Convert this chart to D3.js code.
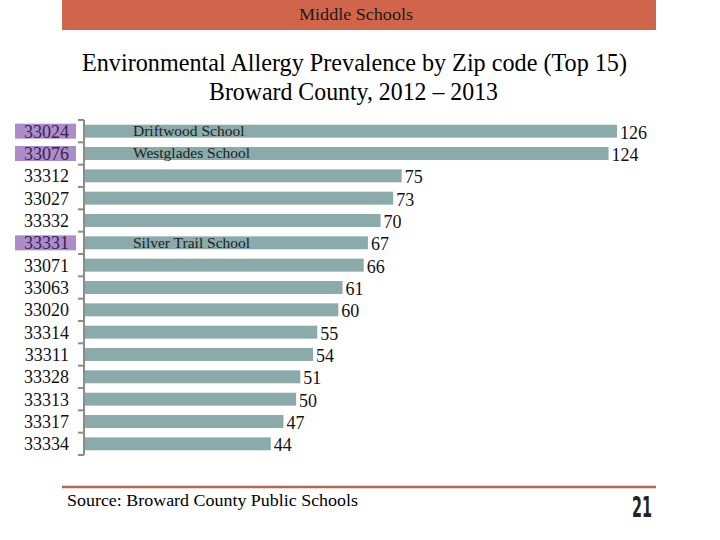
<html>
<head>
    <script src="https://d3js.org/d3.v7.min.js"></script>
    <style>
        body { margin: 0; background: white; }
        text { font-family: "Liberation Serif", "Times New Roman", serif; }
    </style>
</head>
<body>
    <svg id="chart" width="720" height="540"></svg>
    <script>

        const zips = ["33024", "33076", "33312", "33027", "33332", "33331", "33071", "33063",
            "33020", "33314", "33311", "33328", "33313", "33317", "33334"]
        const counts = [126, 124, 75, 73, 70, 67, 66, 61, 60, 55, 54, 51, 50, 47, 44]
        const schools = ["Driftwood School", "Westglades School", "", "", "", "Silver Trail School",
            "", "", "", "", "", "", "", "", ""]
        const highlighted = ["33024", "33076", "33331"]

        const svg = d3.select("#chart")

        // banner on top
        svg.append("rect")
            .attr("x", 62).attr("y", 0)
            .attr("width", 594).attr("height", 30)
            .style("fill", "#d0654b")
        svg.append("text")
            .attr("x", 299).attr("y", 20)
            .attr("textLength", 114).attr("lengthAdjust", "spacingAndGlyphs")
            .style("font-size", "17px")
            .style("fill", "#1a1a1a")
            .text("Middle Schools")

        svg.append("text")
            .attr("x", 82).attr("y", 71)
            .attr("textLength", 545).attr("lengthAdjust", "spacingAndGlyphs")
            .style("font-size", "26px")
            .text("Environmental Allergy Prevalence by Zip code (Top 15)")
        svg.append("text")
            .attr("x", 209).attr("y", 100)
            .attr("textLength", 289).attr("lengthAdjust", "spacingAndGlyphs")
            .style("font-size", "26px")
            .text("Broward County, 2012 \u2013 2013")

        const x = d3.scaleLinear().domain([0, 126]).range([85, 617])
        const y = d3.scaleBand().domain(zips).range([120, 455]).paddingInner(0.42).paddingOuter(0.21)

        // highlight boxes behind some zip codes
        svg.selectAll("rect.hl").data(highlighted)
            .join("rect")
            .attr("class", "hl")
            .attr("x", 15)
            .attr("y", d => y(d) + y.bandwidth() / 2 - 7.5)
            .attr("width", 61)
            .attr("height", 15)
            .style("fill", "#ab8dca")

        svg.selectAll("rect.bar").data(zips)
            .join("rect")
            .attr("class", "bar")
            .attr("x", x(0))
            .attr("y", d => y(d))
            .attr("width", (d, i) => x(counts[i]) - x(0))
            .attr("height", y.bandwidth())
            .style("fill", "#8aabaa")

        // axis line and ticks between categories
        const step = y.step()
        const edges = d3.range(zips.length + 1).map(i => 120 + i * step)
        svg.append("line")
            .attr("x1", 84).attr("x2", 84)
            .attr("y1", 120).attr("y2", 455)
            .style("stroke", "#8c8c8c").style("stroke-width", 2)
        svg.selectAll("line.tick").data(edges)
            .join("line")
            .attr("class", "tick")
            .attr("x1", 78).attr("x2", 84)
            .attr("y1", d => d).attr("y2", d => d)
            .style("stroke", "#8c8c8c").style("stroke-width", 2)

        svg.selectAll("text.zip").data(zips)
            .join("text")
            .attr("class", "zip")
            .attr("x", 69)
            .attr("y", d => y(d) + y.bandwidth())
            .attr("text-anchor", "end")
            .style("font-size", "18px")
            .style("fill", d => highlighted.includes(d) ? "#3b2250" : "#111")
            .text(d => d)

        svg.selectAll("text.val").data(zips)
            .join("text")
            .attr("class", "val")
            .attr("x", (d, i) => x(counts[i]) + 3)
            .attr("y", d => y(d) + y.bandwidth() + 1)
            .style("font-size", "18px")
            .style("fill", "#111")
            .text((d, i) => counts[i])

        svg.selectAll("text.school").data(zips)
            .join("text")
            .attr("class", "school")
            .attr("x", 133)
            .attr("y", d => y(d) + y.bandwidth() - 1.5)
            .style("font-size", "15.5px")
            .style("fill", "#222")
            .text((d, i) => schools[i])

        // footer
        svg.append("line")
            .attr("x1", 62).attr("x2", 656)
            .attr("y1", 487).attr("y2", 487)
            .style("stroke", "#b8674f").style("stroke-width", 2.5)
        svg.append("text")
            .attr("x", 67).attr("y", 506)
            .attr("textLength", 291).attr("lengthAdjust", "spacingAndGlyphs")
            .style("font-size", "17px")
            .text("Source: Broward County Public Schools")
        svg.append("text")
            .attr("x", 632).attr("y", 517)
            .attr("textLength", 20).attr("lengthAdjust", "spacingAndGlyphs")
            .style("font-family", "'DejaVu Sans', sans-serif")
            .style("font-weight", "bold")
            .style("font-size", "29px")
            .style("fill", "#222")
            .text("21")

    </script>
</body>
</html>
